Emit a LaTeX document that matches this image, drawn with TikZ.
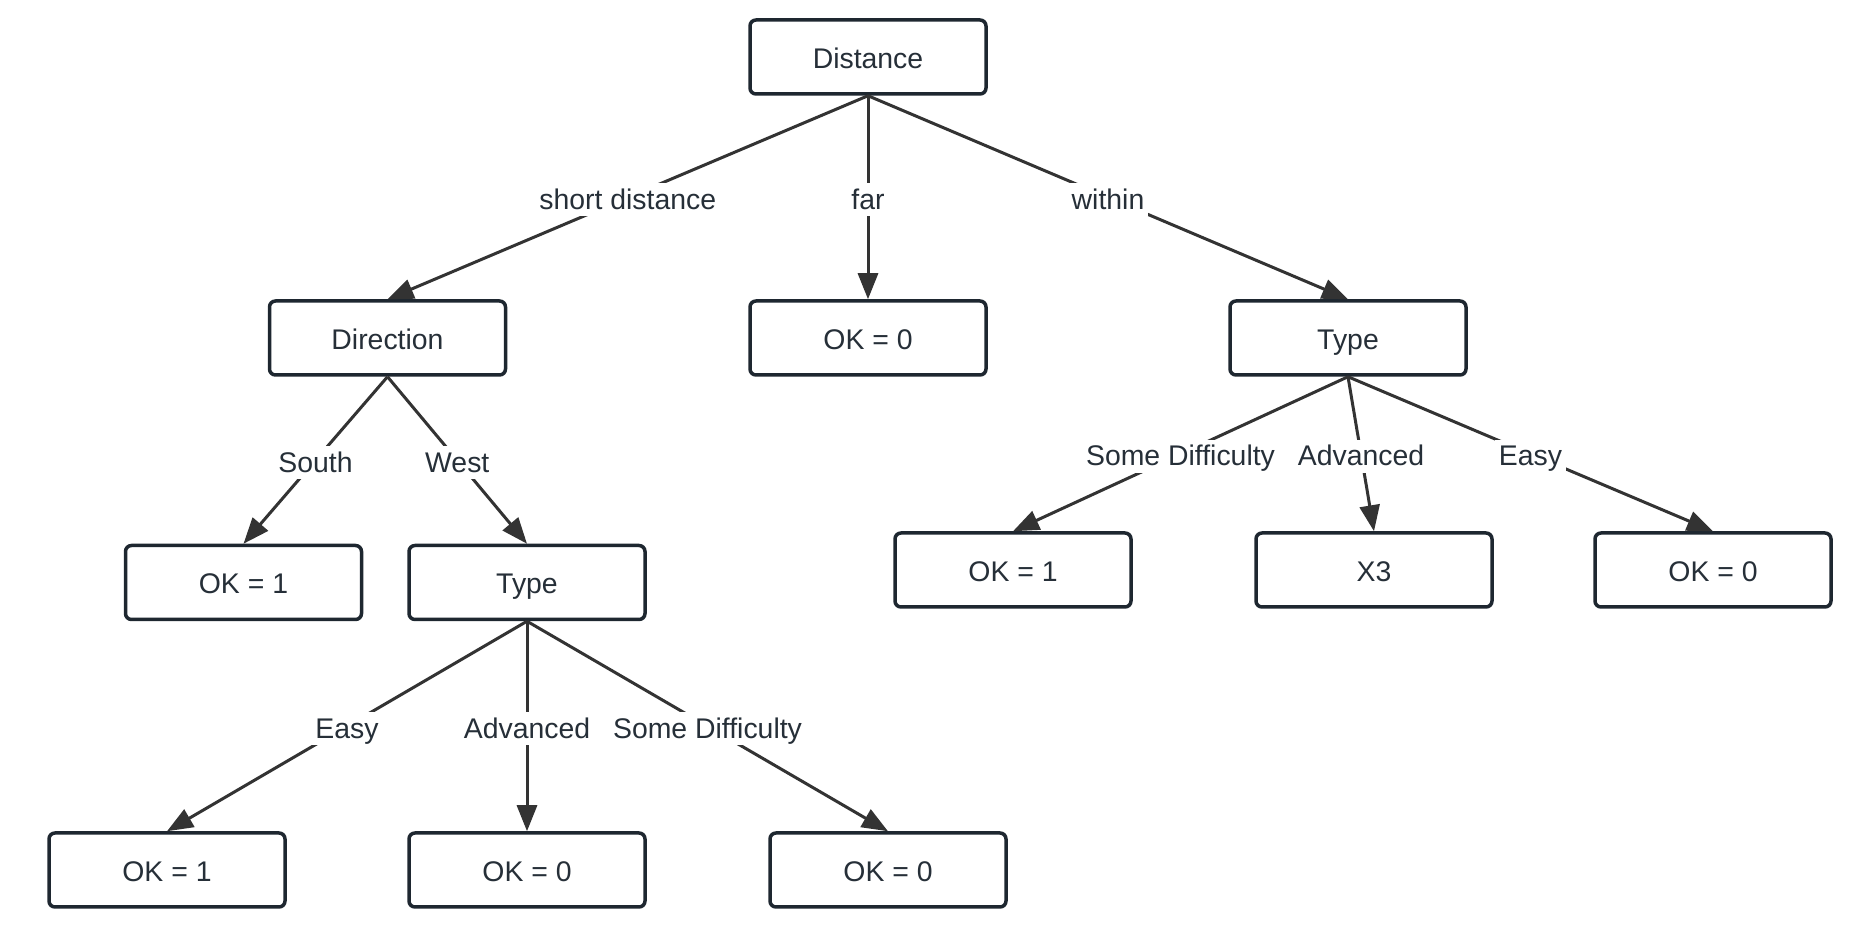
\documentclass[tikz,border=0pt]{standalone}
\usepackage{fontspec}
\setmainfont{Liberation Sans}
\usetikzlibrary{arrows.meta}
\definecolor{boxline}{HTML}{1E2730}
\definecolor{txt}{HTML}{262F38}
\definecolor{edge}{HTML}{333333}
\begin{document}
\begin{tikzpicture}[x=0.5pt,y=-0.5pt,
  box/.style={draw=boxline,line width=1.75pt,rounded corners=3pt,fill=white,
    minimum width=118pt,minimum height=37pt,text=txt,
    text height=12pt,text depth=0.5pt,
    font=\fontsize{14.2pt}{17pt}\selectfont},
  conn/.style={draw=edge,line width=1.5pt,-{Triangle[length=13pt,width=10pt]}},
  lab/.style={fill=white,text=txt,inner xsep=2pt,inner ysep=3.5pt,
    text height=9.5pt,text depth=0pt,yshift=-1.25pt,
    font=\fontsize{14.2pt}{17pt}\selectfont,midway}]
\useasboundingbox (0,0) rectangle (1876,940);
\node[box] (dist) at (868,57) {Distance};
\node[box] (dir) at (387.5,338) {Direction};
\node[box] (far) at (868,338) {OK = 0};
\node[box] (typer) at (1348,338) {Type};
\node[box] (oka) at (243.5,582.5) {OK = 1};
\node[box] (typel) at (527,582.5) {Type};
\node[box] (okr1) at (1013,570) {OK = 1};
\node[box] (x3) at (1374,570) {X3};
\node[box] (okr0) at (1713,570) {OK = 0};
\node[box] (okb1) at (167,870) {OK = 1};
\node[box] (okb2) at (527,870) {OK = 0};
\node[box] (okb3) at (888,870) {OK = 0};
\draw[conn] (dist.south) -- (dir.north) node[lab] {short distance};
\draw[conn] (dist.south) -- (far.north) node[lab] {far};
\draw[conn] (dist.south) -- (typer.north) node[lab] {within};
\draw[conn] (dir.south) -- (oka.north) node[lab] {South};
\draw[conn] (dir.south) -- (typel.north) node[lab] {West};
\draw[conn] (typer.south) -- (okr1.north) node[lab] {Some Difficulty};
\draw[conn] (typer.south) -- (x3.north) node[lab] {Advanced};
\draw[conn] (typer.south) -- (okr0.north) node[lab] {Easy};
\draw[conn] (typel.south) -- (okb1.north) node[lab] {Easy};
\draw[conn] (typel.south) -- (okb2.north) node[lab] {Advanced};
\draw[conn] (typel.south) -- (okb3.north) node[lab] {Some Difficulty};
\end{tikzpicture}
\end{document}
